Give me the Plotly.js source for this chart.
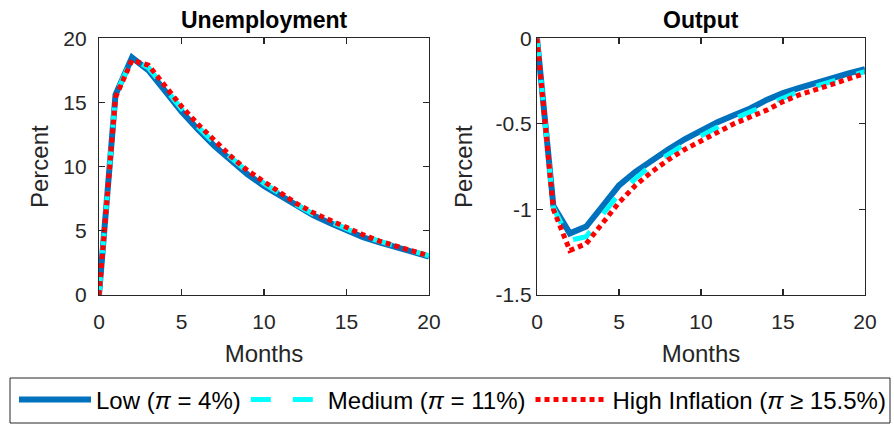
<!DOCTYPE html>
<html><head><meta charset="utf-8">
<script src="https://cdn.plot.ly/plotly-3.0.1.min.js"></script>
<style>html,body{margin:0;padding:0;background:#fff}#chart{width:894px;height:427px}</style>
</head><body><div id="chart"></div>
<script>
const months = [0,1,2,3,4,5,6,7,8,9,10,11,12,13,14,15,16,17,18,19,20];

const unempLow  = [0,15.6,18.5,17.5,15.9,14.3,12.9,11.6,10.5,9.4,8.5,7.7,6.9,6.2,5.6,5.0,4.5,4.1,3.7,3.3,3.0];
const unempMed  = [0,15.6,18.4,17.7,16.1,14.5,13.1,11.8,10.7,9.6,8.7,7.8,7.0,6.3,5.7,5.1,4.6,4.2,3.8,3.4,3.05];
const unempHigh = [0,15.4,18.3,17.9,16.3,14.7,13.3,12.0,10.8,9.7,8.8,7.9,7.1,6.4,5.8,5.2,4.7,4.2,3.8,3.4,3.05];

const outLow  = [0,-0.98,-1.14,-1.10,-0.98,-0.86,-0.78,-0.71,-0.65,-0.59,-0.54,-0.49,-0.45,-0.41,-0.36,-0.32,-0.29,-0.26,-0.23,-0.205,-0.18];
const outMed  = [0,-0.99,-1.18,-1.16,-1.03,-0.91,-0.82,-0.74,-0.68,-0.62,-0.57,-0.52,-0.47,-0.43,-0.39,-0.35,-0.31,-0.28,-0.25,-0.22,-0.195];
const outHigh = [0,-1.00,-1.24,-1.20,-1.08,-0.96,-0.86,-0.78,-0.71,-0.65,-0.60,-0.55,-0.50,-0.46,-0.42,-0.37,-0.33,-0.30,-0.27,-0.24,-0.205];

const seriesNames = ["Low (<i>π</i> = 4%)", "Medium (<i>π</i> = 11%)", "High Inflation (<i>π</i> ≥ 15.5%)"];
const panelTitles = ["Unemployment", "Output"];
const monthTicks = [0,5,10,15,20];
const unempTickVals = [0,5,10,15,20];
const unempTickText = ["0","5","10","15","20"];
const outTickVals = [-1.5,-1,-0.5,0];
const outTickText = ["-1.5","-1","-0.5","0"];

const FONT = "Liberation Sans, Arial, Helvetica, sans-serif";
const AX = '#262626';
const styles = [
  {color:'#0072BD', width:6, dash:'solid'},
  {color:'#00FFFF', width:5, dash:'20px,22px'},
  {color:'#FF0000', width:5, dash:'5px,4px'}
];
const uSeries = [unempLow, unempMed, unempHigh];
const oSeries = [outLow, outMed, outHigh];

const traces = [];
uSeries.forEach((s,i)=>traces.push({x:months,y:s,type:'scatter',mode:'lines',name:seriesNames[i],line:styles[i],xaxis:'x',yaxis:'y',showlegend:true}));
oSeries.forEach((s,i)=>traces.push({x:months,y:s,type:'scatter',mode:'lines',name:seriesNames[i],line:styles[i],xaxis:'x2',yaxis:'y2',showlegend:false}));

function axis(extra){
  return Object.assign({
    showline:true, mirror:'ticks', linecolor:AX, linewidth:1.2,
    ticks:'inside', ticklen:6, tickwidth:1.2, tickcolor:AX,
    showgrid:false, zeroline:false, fixedrange:true,
    tickfont:{family:FONT,size:21,color:'#262626'}
  }, extra);
}
const W=894,H=427;
const yDom=[1-295/H, 1-38.3/H];
const titleFont = {family:FONT,size:24,color:'#262626'};
const layout = {
  width:W, height:H, margin:{l:0,r:0,t:0,b:0},
  paper_bgcolor:'#fff', plot_bgcolor:'#fff',
  font:{family:FONT,color:'#262626'},
  xaxis: axis({domain:[99/W,429/W], range:[0,20], tickvals:monthTicks, anchor:'y', ticklabelstandoff:8,
    title:{text:'Months', font:titleFont, standoff:12}}),
  yaxis: axis({domain:yDom, range:[0,20], tickvals:unempTickVals, ticktext:unempTickText, anchor:'x', ticklabelstandoff:7,
    title:{text:'Percent', font:titleFont, standoff:7}}),
  xaxis2: axis({domain:[537/W,865/W], range:[0,20], tickvals:monthTicks, anchor:'y2', ticklabelstandoff:8,
    title:{text:'Months', font:titleFont, standoff:12}}),
  yaxis2: axis({domain:yDom, range:[-1.5,0], tickvals:outTickVals, ticktext:outTickText, anchor:'x2', ticklabelstandoff:0,
    title:{text:'Percent', font:titleFont, standoff:16}}),
  annotations:[
    {text:'<b>'+panelTitles[0]+'</b>', xref:'paper', yref:'paper', x:264/W, y:1-35/H, xanchor:'center', yanchor:'bottom', showarrow:false, font:{family:FONT,size:23,color:'#000'}},
    {text:'<b>'+panelTitles[1]+'</b>', xref:'paper', yref:'paper', x:701/W, y:1-35/H, xanchor:'center', yanchor:'bottom', showarrow:false, font:{family:FONT,size:23,color:'#000'}}
  ],
  shapes:[
    {type:'rect', xref:'paper', yref:'paper', x0:10/W, x1:890/W, y0:1-423/H, y1:1-378/H, line:{color:AX,width:1}, fillcolor:'rgba(0,0,0,0)'}
  ],
  legend:{orientation:'h', x:14/W, y:1-400/H, xanchor:'left', yanchor:'middle', itemwidth:72,
    bgcolor:'rgba(0,0,0,0)', borderwidth:0, font:{family:FONT,size:24,color:'#000'}, tracegroupgap:0}
};
Plotly.newPlot('chart', traces, layout, {displayModeBar:false, staticPlot:true});
</script></body></html>
